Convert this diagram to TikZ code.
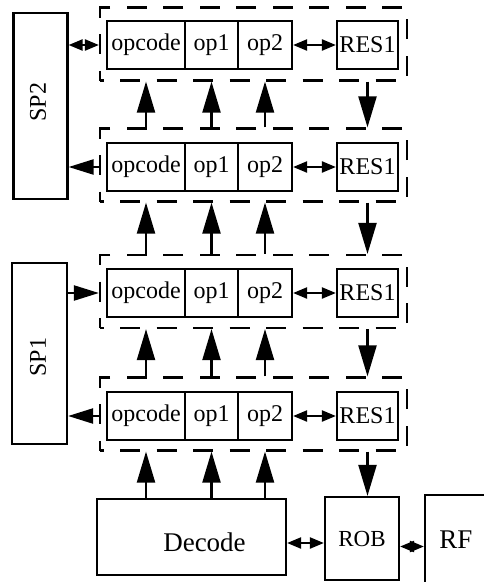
\documentclass[tikz,border=0pt]{standalone}
\usepackage{fontspec}
\setmainfont{Liberation Serif}
\usetikzlibrary{arrows.meta}
\begin{document}
\begin{tikzpicture}[x=1pt,y=-1pt,line width=2.2pt,
  qbox/.style={draw,dash pattern=on 20pt off 16.5pt,dash phase=16.5pt,minimum width=307pt,minimum height=73pt,inner sep=0pt},
  cell/.style={draw,minimum height=48pt,inner sep=0pt,font=\fontsize{24}{28}\selectfont},
  spbox/.style={draw,minimum width=54pt,inner sep=0pt},
  up/.style={-{Triangle[length=31pt,width=18pt]}},
  side/.style={-{Triangle[length=25pt,width=15pt]}},
  dbl/.style={{Triangle[length=14pt,width=11pt]}-{Triangle[length=14pt,width=11pt]}}]
\useasboundingbox (0,0) rectangle (484,582);
% row 1
\node[qbox] (q1) at (253.5,44) {};
\node[cell,minimum width=78pt] (oc1) at (146,45) {opcode};
\node[cell,minimum width=53pt] (oa1) at (211.5,45) {op1};
\node[cell,minimum width=54pt] (ob1) at (265,45) {op2};
\node[cell,minimum width=61pt] (res1) at (367.5,45) {RES1};
% row 2
\node[qbox] (q2) at (253.5,165) {};
\node[cell,minimum width=78pt] (oc2) at (146,167) {opcode};
\node[cell,minimum width=53pt] (oa2) at (211.5,167) {op1};
\node[cell,minimum width=54pt] (ob2) at (265,167) {op2};
\node[cell,minimum width=61pt] (res2) at (367.5,167) {RES1};
% row 3
\node[qbox] (q3) at (253.5,291.5) {};
\node[cell,minimum width=78pt] (oc3) at (146,293) {opcode};
\node[cell,minimum width=53pt] (oa3) at (211.5,293) {op1};
\node[cell,minimum width=54pt] (ob3) at (265,293) {op2};
\node[cell,minimum width=61pt] (res3) at (367.5,293) {RES1};
% row 4
\node[qbox] (q4) at (253.5,414) {};
\node[cell,minimum width=78pt] (oc4) at (146,416) {opcode};
\node[cell,minimum width=53pt] (oa4) at (211.5,416) {op1};
\node[cell,minimum width=54pt] (ob4) at (265,416) {op2};
\node[cell,minimum width=61pt] (res4) at (367.5,416) {RES1};
% stack pointers
\node[spbox,minimum height=186pt] (sp2) at (40.5,106) {};
\node[rotate=90,font=\fontsize{24}{28}\selectfont] at (38,102) {SP2};
\node[spbox,minimum width=55pt,minimum height=181pt] (sp1) at (39.5,353.5) {};
\node[rotate=90,font=\fontsize{24}{28}\selectfont] at (38,357) {SP1};
% bottom units
\node[draw,minimum width=189pt,minimum height=76pt,
  label={[font=\fontsize{27}{32}\selectfont,xshift=13pt,yshift=-5pt]center:Decode}] (dec) at (191.5,537) {};
\node[draw,minimum width=74pt,minimum height=83pt,inner sep=0pt,
  font=\fontsize{23}{27}\selectfont] (rob) at (362,538.5) {ROB};
\node[draw,minimum width=100pt,minimum height=110pt,
  label={[font=\fontsize{27}{32}\selectfont,xshift=-19pt,yshift=10pt]center:RF}] (rf) at (475,550) {};
% operand and result paths
\draw[dbl] (ob1.east) -- (res1.west);
\draw[dbl] (ob2.east) -- (res2.west);
\draw[dbl] (ob3.east) -- (res3.west);
\draw[dbl] (ob4.east) -- (res4.west);
\draw[up] (q2.north -| oc1) -- (q1.south -| oc1);
\draw[up] (q2.north -| oa1) -- (q1.south -| oa1);
\draw[up] (q2.north -| ob1) -- (q1.south -| ob1);
\draw[up] (q1.south -| res1) -- (q2.north -| res1);
\draw[up] (q3.north -| oc2) -- (q2.south -| oc2);
\draw[up] (q3.north -| oa2) -- (q2.south -| oa2);
\draw[up] (q3.north -| ob2) -- (q2.south -| ob2);
\draw[up] (q2.south -| res2) -- (q3.north -| res2);
\draw[up] (q4.north -| oc3) -- (q3.south -| oc3);
\draw[up] (q4.north -| oa3) -- (q3.south -| oa3);
\draw[up] (q4.north -| ob3) -- (q3.south -| ob3);
\draw[up] (q3.south -| res3) -- (q4.north -| res3);
\draw[up] (dec.north -| oc4) -- (q4.south -| oc4);
\draw[up] (dec.north -| oa4) -- (q4.south -| oa4);
\draw[up] (dec.north -| ob4) -- (q4.south -| ob4);
\draw[up] (q4.south -| res4) -- (rob.north -| res4);
% stack pointer links
\draw[dbl] (sp2.east |- oc1) -- (q1.west |- oc1);
\draw[side] (q2.west |- oc2) -- (sp2.east |- oc2);
\draw[side] (sp1.east |- oc3) -- (q3.west |- oc3);
\draw[side] (q4.west |- oc4) -- (sp1.east |- oc4);
% decode, ROB and RF
\draw[dbl] ([yshift=-6pt]dec.east) -- ([yshift=-6pt]dec.east -| rob.west);
\draw[dbl] ([yshift=-8pt]rob.east) -- ([yshift=-8pt]rob.east -| rf.west);
\end{tikzpicture}
\end{document}
